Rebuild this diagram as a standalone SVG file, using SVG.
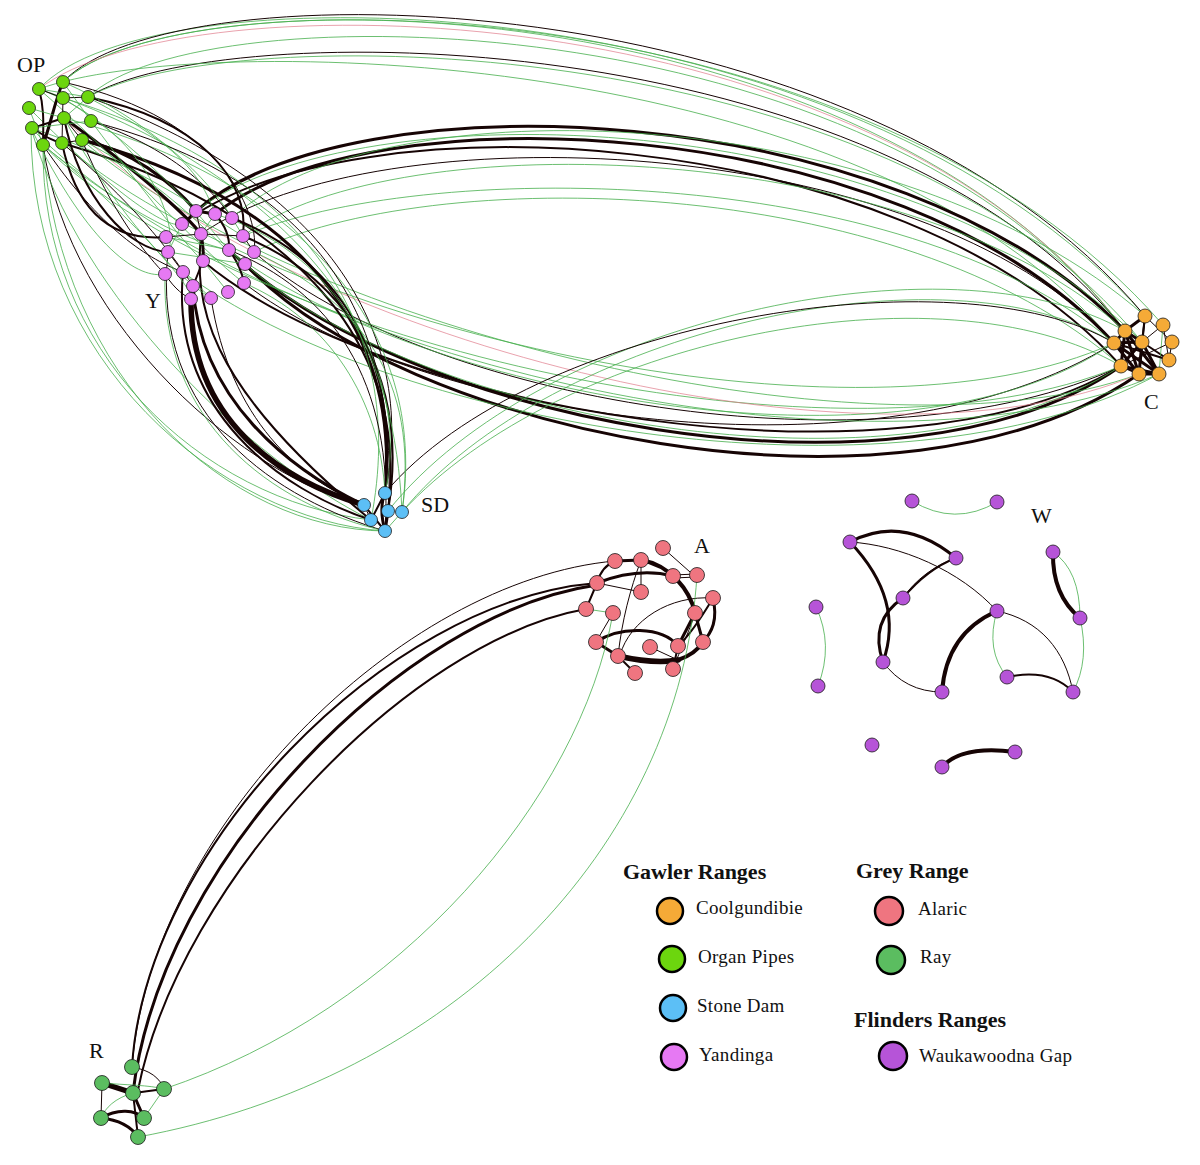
<svg xmlns="http://www.w3.org/2000/svg" width="1200" height="1165" viewBox="0 0 1200 1165">
<style>
.bg{fill:#fff}
path{fill:none;stroke-linecap:round}
.g{stroke:#46ae4c;stroke-width:0.8}
.p{stroke:#e07a8a;stroke-width:0.7}
.k{stroke:#160404;stroke-width:1}
.k2{stroke:#160404;stroke-width:2}
.k3{stroke:#160404;stroke-width:3}
.k4{stroke:#160404;stroke-width:4}
.k5{stroke:#160404;stroke-width:5.5}
.n{stroke:#1a1a1a;stroke-width:0.8}
.op{fill:#6cd60e}.y{fill:#e679f3}.c{fill:#f5aa37}.sd{fill:#5cbff6}
.a{fill:#ef7580}.r{fill:#5bbd60}.w{fill:#b654d8}
.lc{stroke:#000;stroke-width:2.5}
.lbl{font-family:"Liberation Serif","DejaVu Serif",serif;font-size:22px;fill:#111}
.ht{font-family:"Liberation Serif","DejaVu Serif",serif;font-size:22px;font-weight:bold;fill:#111}
.lt{font-family:"Liberation Serif","DejaVu Serif",serif;font-size:19px;fill:#111;letter-spacing:0.3px}
</style>
<rect class="bg" x="0" y="0" width="1200" height="1165"/>
<g id="connectors">
<!-- OP to C top arcs -->
<path class="g" d="M39 89 C150 -35 850 -20 1145 316"/>
<path class="k" d="M63 82 C170 -35 860 -25 1145 316"/>
<path class="g" d="M63 82 C175 -28 865 -18 1163 325"/>
<path class="g" d="M63 82 C180 -30 870 -15 1125 331"/>
<path class="p" d="M39 89 C185 -25 875 -10 1125 331"/>
<path class="g" d="M88 97 C200 -10 880 0 1125 331"/>
<path class="k" d="M88 97 C220 15 880 20 1125 331"/>
<path class="g" d="M88 97 C225 20 885 25 1142 342"/>
<path class="g" d="M39 89 C200 30 870 45 1114 343"/>
<!-- Y to C upper arcs -->
<path class="k3" d="M196 211 C350 75 900 95 1125 331"/>
<path class="k3" d="M215 214 C370 90 900 110 1114 343"/>
<path class="k2" d="M182 224 C350 95 900 120 1121 366"/>
<path class="k" d="M201 234 C380 110 920 130 1114 343"/>
<path class="g" d="M232 218 C380 80 900 100 1145 316"/>
<path class="g" d="M243 236 C400 120 920 140 1125 331"/>
<path class="g" d="M196 211 C360 85 910 105 1142 342"/>
<path class="g" d="M243 236 C420 160 900 160 1114 343"/>
<path class="g" d="M254 252 C430 165 900 170 1121 366"/>
<!-- lower Y/OP to C arcs -->
<path class="k3" d="M229 250 C400 420 900 520 1121 366"/>
<path class="k3" d="M245 264 C400 430 900 540 1139 374"/>
<path class="k2" d="M203 261 C380 410 900 500 1121 366"/>
<path class="k" d="M244 283 C420 420 880 490 1114 343"/>
<path class="k" d="M254 252 C420 400 880 480 1121 366"/>
<path class="g" d="M43 145 C250 350 850 480 1121 366"/>
<path class="g" d="M62 143 C280 330 860 460 1114 343"/>
<path class="g" d="M82 140 C300 330 880 470 1139 374"/>
<path class="g" d="M31 128 C260 360 870 500 1159 374"/>
<path class="p" d="M64 118 C280 340 870 490 1139 374"/>
<path class="g" d="M229 250 C410 390 900 490 1114 343"/>
<path class="g" d="M245 264 C420 420 900 510 1121 366"/>
<path class="g" d="M183 272 C380 420 890 520 1159 374"/>
<!-- SD to C arcs -->
<path class="g" d="M402 512 C550 330 950 240 1114 343"/>
<path class="g" d="M388 511 C540 320 950 230 1125 331"/>
<path class="k" d="M385 493 C530 320 960 250 1114 343"/>
<path class="g" d="M402 512 C560 340 940 260 1121 366"/>
<!-- OP to SD left arcs -->
<path class="g" d="M43 145 C40 350 200 500 371 520"/>
<path class="g" d="M31 128 C30 360 220 520 385 531"/>
<path class="k" d="M43 145 C70 330 250 480 364 505"/>
<path class="g" d="M43 145 C60 380 230 530 385 531"/>
<path class="g" d="M31 128 C80 300 250 460 371 520"/>
<!-- Y to SD thick -->
<path class="k5" d="M191 299 C190 420 280 480 364 505"/>
<path class="k3" d="M193 286 C200 400 290 470 364 505"/>
<path class="k2" d="M183 272 C170 410 280 490 371 520"/>
<path class="k" d="M168 252 C150 420 280 500 385 531"/>
<path class="g" d="M165 274 C160 420 270 505 385 531"/>
<path class="k" d="M211 298 C230 420 300 480 364 505"/>
<path class="k2" d="M201 234 C195 300 200 380 371 520"/>
<!-- right bundle OP/Y to SD -->
<path class="k3" d="M82 140 C300 200 400 330 385 493"/>
<path class="k2" d="M62 143 C290 210 410 340 388 511"/>
<path class="k" d="M88 97 C320 180 420 330 385 493"/>
<path class="k2" d="M232 218 C340 260 400 360 385 493"/>
<path class="k2" d="M243 236 C350 280 410 380 388 511"/>
<path class="g" d="M254 252 C360 300 420 380 402 512"/>
<path class="g" d="M64 118 C300 180 430 330 402 512"/>
<path class="g" d="M39 89 C280 170 420 340 385 493"/>
<path class="k" d="M90 121 C320 180 400 320 388 511"/>
<path class="g" d="M63 98 C300 170 410 320 371 520"/>
<path class="g" d="M215 214 C330 250 395 350 402 512"/>
<path class="k" d="M229 250 C330 290 395 380 385 531"/>
<path class="g" d="M244 283 C330 320 380 400 385 493"/>
<!-- OP to Y -->
<path class="k3" d="M82 140 C130 150 170 180 196 211"/>
<path class="k2" d="M62 143 C80 230 130 240 166 237"/>
<path class="k" d="M90 121 C180 150 220 200 232 218"/>
<path class="k" d="M43 145 C100 230 150 260 183 272"/>
<path class="k2" d="M88 97 C200 120 250 180 243 236"/>
<path class="k3" d="M64 118 C150 180 190 220 201 234"/>
<path class="g" d="M31 128 C90 250 140 280 165 274"/>
<path class="g" d="M63 98 C160 160 210 230 229 250"/>
<path class="g" d="M39 89 C150 130 180 230 168 252"/>
<path class="g" d="M82 140 C180 190 230 260 245 264"/>
<path class="k" d="M63 82 C230 120 260 220 254 252"/>
<path class="g" d="M43 145 C150 230 200 300 191 299"/>
<path class="g" d="M29 108 C120 200 170 230 182 224"/>
<path class="g" d="M87 97 C170 140 200 170 215 214"/>
<path class="g" d="M91 121 C150 200 190 250 203 261"/>
<path class="k" d="M62 143 C130 200 170 250 193 286"/>
<path class="g" d="M43 145 C110 200 180 240 229 250"/>
<path class="g" d="M63 82 C150 120 210 180 232 218"/>
<path class="g" d="M31 128 C130 160 200 210 243 236"/>
<path class="k" d="M82 140 C110 210 150 260 165 274"/>
<path class="g" d="M64 118 C120 220 180 280 211 298"/>
<path class="g" d="M39 89 C110 150 200 250 244 283"/>
<path class="k2" d="M64 118 C80 200 130 250 168 252"/>
<!-- OP internal -->
<path class="k3" d="M63 82 C55 100 52 120 43 145"/>
<path class="k2" d="M32 128 C45 124 55 121 64 118"/>
<path class="k2" d="M32 128 C45 136 52 141 62 143"/>
<path class="k" d="M62 143 L82 140"/>
<path class="k" d="M39 89 L63 98"/>
<path class="k" d="M63 98 L88 97"/>
<path class="k2" d="M39 89 C45 110 43 130 43 145"/>
<path class="g" d="M29 108 L43 145"/>
<path class="g" d="M39 89 L88 97"/>
<path class="g" d="M63 82 L91 121"/>
<path class="k" d="M64 118 L82 140"/>
<path class="g" d="M29 108 L64 118"/>
<path class="g" d="M32 128 L91 121"/>
<path class="k" d="M63 98 L62 143"/>
<path class="g" d="M88 97 L64 118"/>
<!-- Y internal -->
<path class="k3" d="M196 211 L215 214"/>
<path class="k3" d="M201 234 C203 245 204 252 203 261"/>
<path class="k2" d="M203 261 L193 286"/>
<path class="k2" d="M182 224 L196 211"/>
<path class="k2" d="M229 250 C238 262 242 272 244 283"/>
<path class="k2" d="M215 214 C225 225 230 238 229 250"/>
<path class="k" d="M166 237 L201 234"/>
<path class="k" d="M168 252 L183 272"/>
<path class="k" d="M243 236 L254 252"/>
<path class="k" d="M196 211 L201 234"/>
<path class="g" d="M182 224 L168 252"/>
<path class="g" d="M232 218 L243 236"/>
<path class="g" d="M229 250 L245 264"/>
<path class="g" d="M203 261 L228 292"/>
<path class="k" d="M165 274 C175 290 185 296 191 299"/>
<path class="g" d="M183 272 L211 298"/>
<path class="g" d="M166 237 L229 250"/>
<path class="k" d="M201 234 L243 236"/>
<path class="g" d="M168 252 L245 264"/>
<path class="k2" d="M193 286 L191 299"/>
<path class="g" d="M215 214 L201 234"/>
<!-- C internal -->
<path class="k3" d="M1125 331 L1142 342"/>
<path class="k3" d="M1114 343 L1139 374"/>
<path class="k3" d="M1114 343 L1159 374"/>
<path class="k3" d="M1121 366 L1159 374"/>
<path class="k3" d="M1139 374 L1159 374"/>
<path class="k3" d="M1145 316 L1125 331"/>
<path class="k2" d="M1145 316 L1142 342"/>
<path class="k3" d="M1125 331 L1114 343"/>
<path class="k2" d="M1142 342 L1169 360"/>
<path class="k" d="M1163 325 L1142 342"/>
<path class="k3" d="M1142 342 L1139 374"/>
<path class="k3" d="M1114 343 L1142 342"/>
<path class="k" d="M1172 342 L1169 360"/>
<path class="k3" d="M1125 331 L1139 374"/>
<path class="k3" d="M1121 366 L1142 342"/>
<path class="k" d="M1145 316 L1172 342"/>
<path class="k" d="M1163 325 L1169 360"/>
<path class="k3" d="M1142 342 L1159 374"/>
<path class="k3" d="M1125 331 L1121 366"/>
<path class="g" d="M1163 325 L1159 374"/>
<path class="k2" d="M1114 343 L1169 360"/>
<path class="k" d="M1121 366 L1172 342"/>
<path class="k3" d="M1125 331 L1159 374"/>
<path class="k2" d="M1145 316 L1139 374"/>
<path class="k2" d="M1121 366 L1139 374"/>
<!-- SD internal -->
<path class="k3" d="M385 493 C380 505 382 520 385 531"/>
<path class="k2" d="M364 505 L385 531"/>
<path class="k3" d="M388 511 L385 531"/>
<path class="k2" d="M371 520 L385 493"/>
<path class="k" d="M364 505 L371 520"/>
<path class="g" d="M402 512 L385 531"/>
<!-- A internal -->
<path class="k3" d="M597 583 C625 572 650 570 673 576"/>
<path class="k3" d="M615 561 L641 560"/>
<path class="k4" d="M641 560 C670 565 690 590 695 613"/>
<path class="k" d="M673 575 L697 574"/>
<path class="k" d="M673 578 L697 577"/>
<path class="k" d="M663 548 L690 572"/>
<path class="k3" d="M713 598 C718 620 712 632 703 642"/>
<path class="k" d="M713 598 C670 595 630 620 620 655"/>
<path class="k3" d="M596 642 C620 626 662 626 678 646"/>
<path class="k5" d="M618 656 C640 661 662 663 678 660"/>
<path class="k4" d="M678 660 C690 656 698 650 703 642"/>
<path class="k3" d="M596 642 L618 656"/>
<path class="k2" d="M618 656 L635 673"/>
<path class="k" d="M641 560 C630 590 622 620 618 656"/>
<path class="k2" d="M597 583 L586 609"/>
<path class="k" d="M597 583 L641 592"/>
<path class="k3" d="M695 613 L703 642"/>
<path class="k3" d="M695 613 L678 646"/>
<path class="k" d="M695 613 C690 630 680 650 673 669"/>
<path class="k2" d="M678 646 L673 669"/>
<path class="k" d="M596 642 L613 613"/>
<path class="k2" d="M615 561 C605 565 600 572 597 583"/>
<path class="k" d="M641 560 L641 592"/>
<path class="g" d="M586 609 L613 613"/>
<path class="k2" d="M713 598 C700 620 690 635 678 646"/>
<path class="k" d="M650 647 L678 660"/>
<!-- A to R -->
<path class="k2" d="M597 583 C385 600 145 850 132 1067"/>
<path class="k3" d="M597 585 C405 612 160 860 133 1093"/>
<path class="k2" d="M586 609 C410 640 180 880 138 1090"/>
<path class="k" d="M615 561 C400 580 150 830 132 1067"/>
<path class="g" d="M613 613 C580 800 400 1010 164 1089"/>
<path class="g" d="M697 575 C680 850 450 1080 138 1137"/>
<!-- R internal -->
<path class="k5" d="M102 1083 L133 1093"/>
<path class="k3" d="M133 1093 L144 1118"/>
<path class="k3" d="M101 1118 C120 1120 132 1128 138 1137"/>
<path class="k3" d="M101 1118 C118 1108 135 1110 144 1118"/>
<path class="k2" d="M133 1093 C145 1092 155 1090 164 1089"/>
<path class="k" d="M132 1067 C150 1070 160 1078 164 1089"/>
<path class="k" d="M102 1083 L101 1118"/>
<path class="g" d="M164 1089 L144 1118"/>
<path class="g" d="M133 1093 C115 1098 105 1108 101 1118"/>
<path class="g" d="M102 1083 C125 1085 150 1085 164 1089"/>
<path class="k2" d="M133 1093 L138 1137"/>
<!-- W -->
<path class="g" d="M912 501 Q955 527 997 502"/>
<path class="k3" d="M850 542 Q903 514 956 558"/>
<path class="k" d="M850 542 C900 545 960 570 997 611"/>
<path class="k3" d="M850 542 Q905 600 883 662"/>
<path class="k3" d="M883 662 C872 630 885 610 903 598"/>
<path class="k" d="M903 598 C915 580 935 565 956 558"/>
<path class="k2" d="M903 598 C918 580 935 566 956 558"/>
<path class="k" d="M883 662 Q905 692 942 692"/>
<path class="k4" d="M942 692 C945 650 965 625 997 611"/>
<path class="k" d="M997 611 C1040 620 1065 650 1073 692"/>
<path class="g" d="M997 611 Q985 650 1007 677"/>
<path class="k2" d="M1007 677 Q1050 668 1073 692"/>
<path class="k4" d="M1053 552 Q1052 595 1080 618"/>
<path class="g" d="M1053 552 Q1080 570 1080 618"/>
<path class="g" d="M1080 618 Q1090 660 1073 692"/>
<path class="g" d="M816 607 Q834 645 818 686"/>
<path class="k4" d="M942 767 Q962 745 1015 752"/>
</g>
<g id="nodes">
<g id="cluster-OP">
<g id="op1"><circle class="n op" cx="39" cy="89" r="6.5"/></g>
<g id="op2"><circle class="n op" cx="63" cy="82" r="6.5"/></g>
<g id="op3"><circle class="n op" cx="88" cy="97" r="6.5"/></g>
<g id="op4"><circle class="n op" cx="63" cy="98" r="6.5"/></g>
<g id="op5"><circle class="n op" cx="29" cy="108" r="6.5"/></g>
<g id="op6"><circle class="n op" cx="64" cy="118" r="6.5"/></g>
<g id="op7"><circle class="n op" cx="91" cy="121" r="6.5"/></g>
<g id="op8"><circle class="n op" cx="32" cy="128" r="6.5"/></g>
<g id="op9"><circle class="n op" cx="43" cy="145" r="6.5"/></g>
<g id="op10"><circle class="n op" cx="62" cy="143" r="6.5"/></g>
<g id="op11"><circle class="n op" cx="82" cy="140" r="6.5"/></g>
</g>
<g id="cluster-Y">
<g id="y1"><circle class="n y" cx="196" cy="211" r="6.5"/></g>
<g id="y2"><circle class="n y" cx="215" cy="214" r="6.5"/></g>
<g id="y3"><circle class="n y" cx="232" cy="218" r="6.5"/></g>
<g id="y4"><circle class="n y" cx="182" cy="224" r="6.5"/></g>
<g id="y5"><circle class="n y" cx="201" cy="234" r="6.5"/></g>
<g id="y6"><circle class="n y" cx="243" cy="236" r="6.5"/></g>
<g id="y7"><circle class="n y" cx="166" cy="237" r="6.5"/></g>
<g id="y8"><circle class="n y" cx="168" cy="252" r="6.5"/></g>
<g id="y9"><circle class="n y" cx="229" cy="250" r="6.5"/></g>
<g id="y10"><circle class="n y" cx="254" cy="252" r="6.5"/></g>
<g id="y11"><circle class="n y" cx="203" cy="261" r="6.5"/></g>
<g id="y12"><circle class="n y" cx="245" cy="264" r="6.5"/></g>
<g id="y13"><circle class="n y" cx="183" cy="272" r="6.5"/></g>
<g id="y14"><circle class="n y" cx="165" cy="274" r="6.5"/></g>
<g id="y15"><circle class="n y" cx="244" cy="283" r="6.5"/></g>
<g id="y16"><circle class="n y" cx="193" cy="286" r="6.5"/></g>
<g id="y17"><circle class="n y" cx="228" cy="292" r="6.5"/></g>
<g id="y18"><circle class="n y" cx="191" cy="299" r="6.5"/></g>
<g id="y19"><circle class="n y" cx="211" cy="298" r="6.5"/></g>
</g>
<g id="cluster-C">
<g id="c1"><circle class="n c" cx="1145" cy="316" r="7"/></g>
<g id="c2"><circle class="n c" cx="1163" cy="325" r="7"/></g>
<g id="c3"><circle class="n c" cx="1125" cy="331" r="7"/></g>
<g id="c4"><circle class="n c" cx="1142" cy="342" r="7"/></g>
<g id="c5"><circle class="n c" cx="1172" cy="342" r="7"/></g>
<g id="c6"><circle class="n c" cx="1114" cy="343" r="7"/></g>
<g id="c7"><circle class="n c" cx="1169" cy="360" r="7"/></g>
<g id="c8"><circle class="n c" cx="1121" cy="366" r="7"/></g>
<g id="c9"><circle class="n c" cx="1139" cy="374" r="7"/></g>
<g id="c10"><circle class="n c" cx="1159" cy="374" r="7"/></g>
</g>
<g id="cluster-SD">
<g id="sd1"><circle class="n sd" cx="385" cy="493" r="6.5"/></g>
<g id="sd2"><circle class="n sd" cx="364" cy="505" r="6.5"/></g>
<g id="sd3"><circle class="n sd" cx="388" cy="511" r="6.5"/></g>
<g id="sd4"><circle class="n sd" cx="402" cy="512" r="6.5"/></g>
<g id="sd5"><circle class="n sd" cx="371" cy="520" r="6.5"/></g>
<g id="sd6"><circle class="n sd" cx="385" cy="531" r="6.5"/></g>
</g>
<g id="cluster-A">
<g id="a1"><circle class="n a" cx="663" cy="548" r="7.5"/></g>
<g id="a2"><circle class="n a" cx="615" cy="561" r="7.5"/></g>
<g id="a3"><circle class="n a" cx="641" cy="560" r="7.5"/></g>
<g id="a4"><circle class="n a" cx="673" cy="576" r="7.5"/></g>
<g id="a5"><circle class="n a" cx="697" cy="575" r="7.5"/></g>
<g id="a6"><circle class="n a" cx="597" cy="583" r="7.5"/></g>
<g id="a7"><circle class="n a" cx="641" cy="592" r="7.5"/></g>
<g id="a8"><circle class="n a" cx="713" cy="598" r="7.5"/></g>
<g id="a9"><circle class="n a" cx="586" cy="609" r="7.5"/></g>
<g id="a10"><circle class="n a" cx="613" cy="613" r="7.5"/></g>
<g id="a11"><circle class="n a" cx="695" cy="613" r="7.5"/></g>
<g id="a12"><circle class="n a" cx="596" cy="642" r="7.5"/></g>
<g id="a13"><circle class="n a" cx="703" cy="642" r="7.5"/></g>
<g id="a14"><circle class="n a" cx="650" cy="647" r="7.5"/></g>
<g id="a15"><circle class="n a" cx="678" cy="646" r="7.5"/></g>
<g id="a16"><circle class="n a" cx="618" cy="656" r="7.5"/></g>
<g id="a17"><circle class="n a" cx="635" cy="673" r="7.5"/></g>
<g id="a18"><circle class="n a" cx="673" cy="669" r="7.5"/></g>
</g>
<g id="cluster-R">
<g id="r1"><circle class="n r" cx="132" cy="1067" r="7.5"/></g>
<g id="r2"><circle class="n r" cx="102" cy="1083" r="7.5"/></g>
<g id="r3"><circle class="n r" cx="164" cy="1089" r="7.5"/></g>
<g id="r4"><circle class="n r" cx="133" cy="1093" r="7.5"/></g>
<g id="r5"><circle class="n r" cx="101" cy="1118" r="7.5"/></g>
<g id="r6"><circle class="n r" cx="144" cy="1118" r="7.5"/></g>
<g id="r7"><circle class="n r" cx="138" cy="1137" r="7.5"/></g>
</g>
<g id="cluster-W">
<g id="w1"><circle class="n w" cx="912" cy="501" r="7"/></g>
<g id="w2"><circle class="n w" cx="997" cy="502" r="7"/></g>
<g id="w3"><circle class="n w" cx="850" cy="542" r="7"/></g>
<g id="w4"><circle class="n w" cx="956" cy="558" r="7"/></g>
<g id="w5"><circle class="n w" cx="1053" cy="552" r="7"/></g>
<g id="w6"><circle class="n w" cx="903" cy="598" r="7"/></g>
<g id="w7"><circle class="n w" cx="816" cy="607" r="7"/></g>
<g id="w8"><circle class="n w" cx="997" cy="611" r="7"/></g>
<g id="w9"><circle class="n w" cx="1080" cy="618" r="7"/></g>
<g id="w10"><circle class="n w" cx="883" cy="662" r="7"/></g>
<g id="w11"><circle class="n w" cx="818" cy="686" r="7"/></g>
<g id="w12"><circle class="n w" cx="1007" cy="677" r="7"/></g>
<g id="w13"><circle class="n w" cx="942" cy="692" r="7"/></g>
<g id="w14"><circle class="n w" cx="1073" cy="692" r="7"/></g>
<g id="w15"><circle class="n w" cx="872" cy="745" r="7"/></g>
<g id="w16"><circle class="n w" cx="1015" cy="752" r="7"/></g>
<g id="w17"><circle class="n w" cx="942" cy="767" r="7"/></g>
</g>
</g>
<g id="labels">
<text class="lbl" x="17" y="72">OP</text>
<text class="lbl" x="145" y="308">Y</text>
<text class="lbl" x="1144" y="409">C</text>
<text class="lbl" x="421" y="512">SD</text>
<text class="lbl" x="1031" y="523">W</text>
<text class="lbl" x="694" y="553">A</text>
<text class="lbl" x="89" y="1058">R</text>
</g>
<g id="legend">
<text class="ht" x="623" y="879">Gawler Ranges</text>
<text class="ht" x="856" y="878">Grey Range</text>
<text class="ht" x="854" y="1027">Flinders Ranges</text>
<g id="leg-coolgundibie"><circle class="lc c" cx="670" cy="911" r="13"/><text class="lt" x="696" y="914">Coolgundibie</text></g>
<g id="leg-organpipes"><circle class="lc op" cx="672" cy="959" r="13"/><text class="lt" x="698" y="963">Organ Pipes</text></g>
<g id="leg-stonedam"><circle class="lc sd" cx="673" cy="1008" r="13"/><text class="lt" x="697" y="1012">Stone Dam</text></g>
<g id="leg-yandinga"><circle class="lc y" cx="674" cy="1057" r="13"/><text class="lt" x="699" y="1061">Yandinga</text></g>
<g id="leg-alaric"><circle class="lc a" cx="889" cy="911" r="14"/><text class="lt" x="918" y="915">Alaric</text></g>
<g id="leg-ray"><circle class="lc r" cx="891" cy="960" r="14"/><text class="lt" x="920" y="963">Ray</text></g>
<g id="leg-wauka"><circle class="lc w" cx="893" cy="1056" r="14"/><text class="lt" x="919" y="1062">Waukawoodna Gap</text></g>
</g>
</svg>
